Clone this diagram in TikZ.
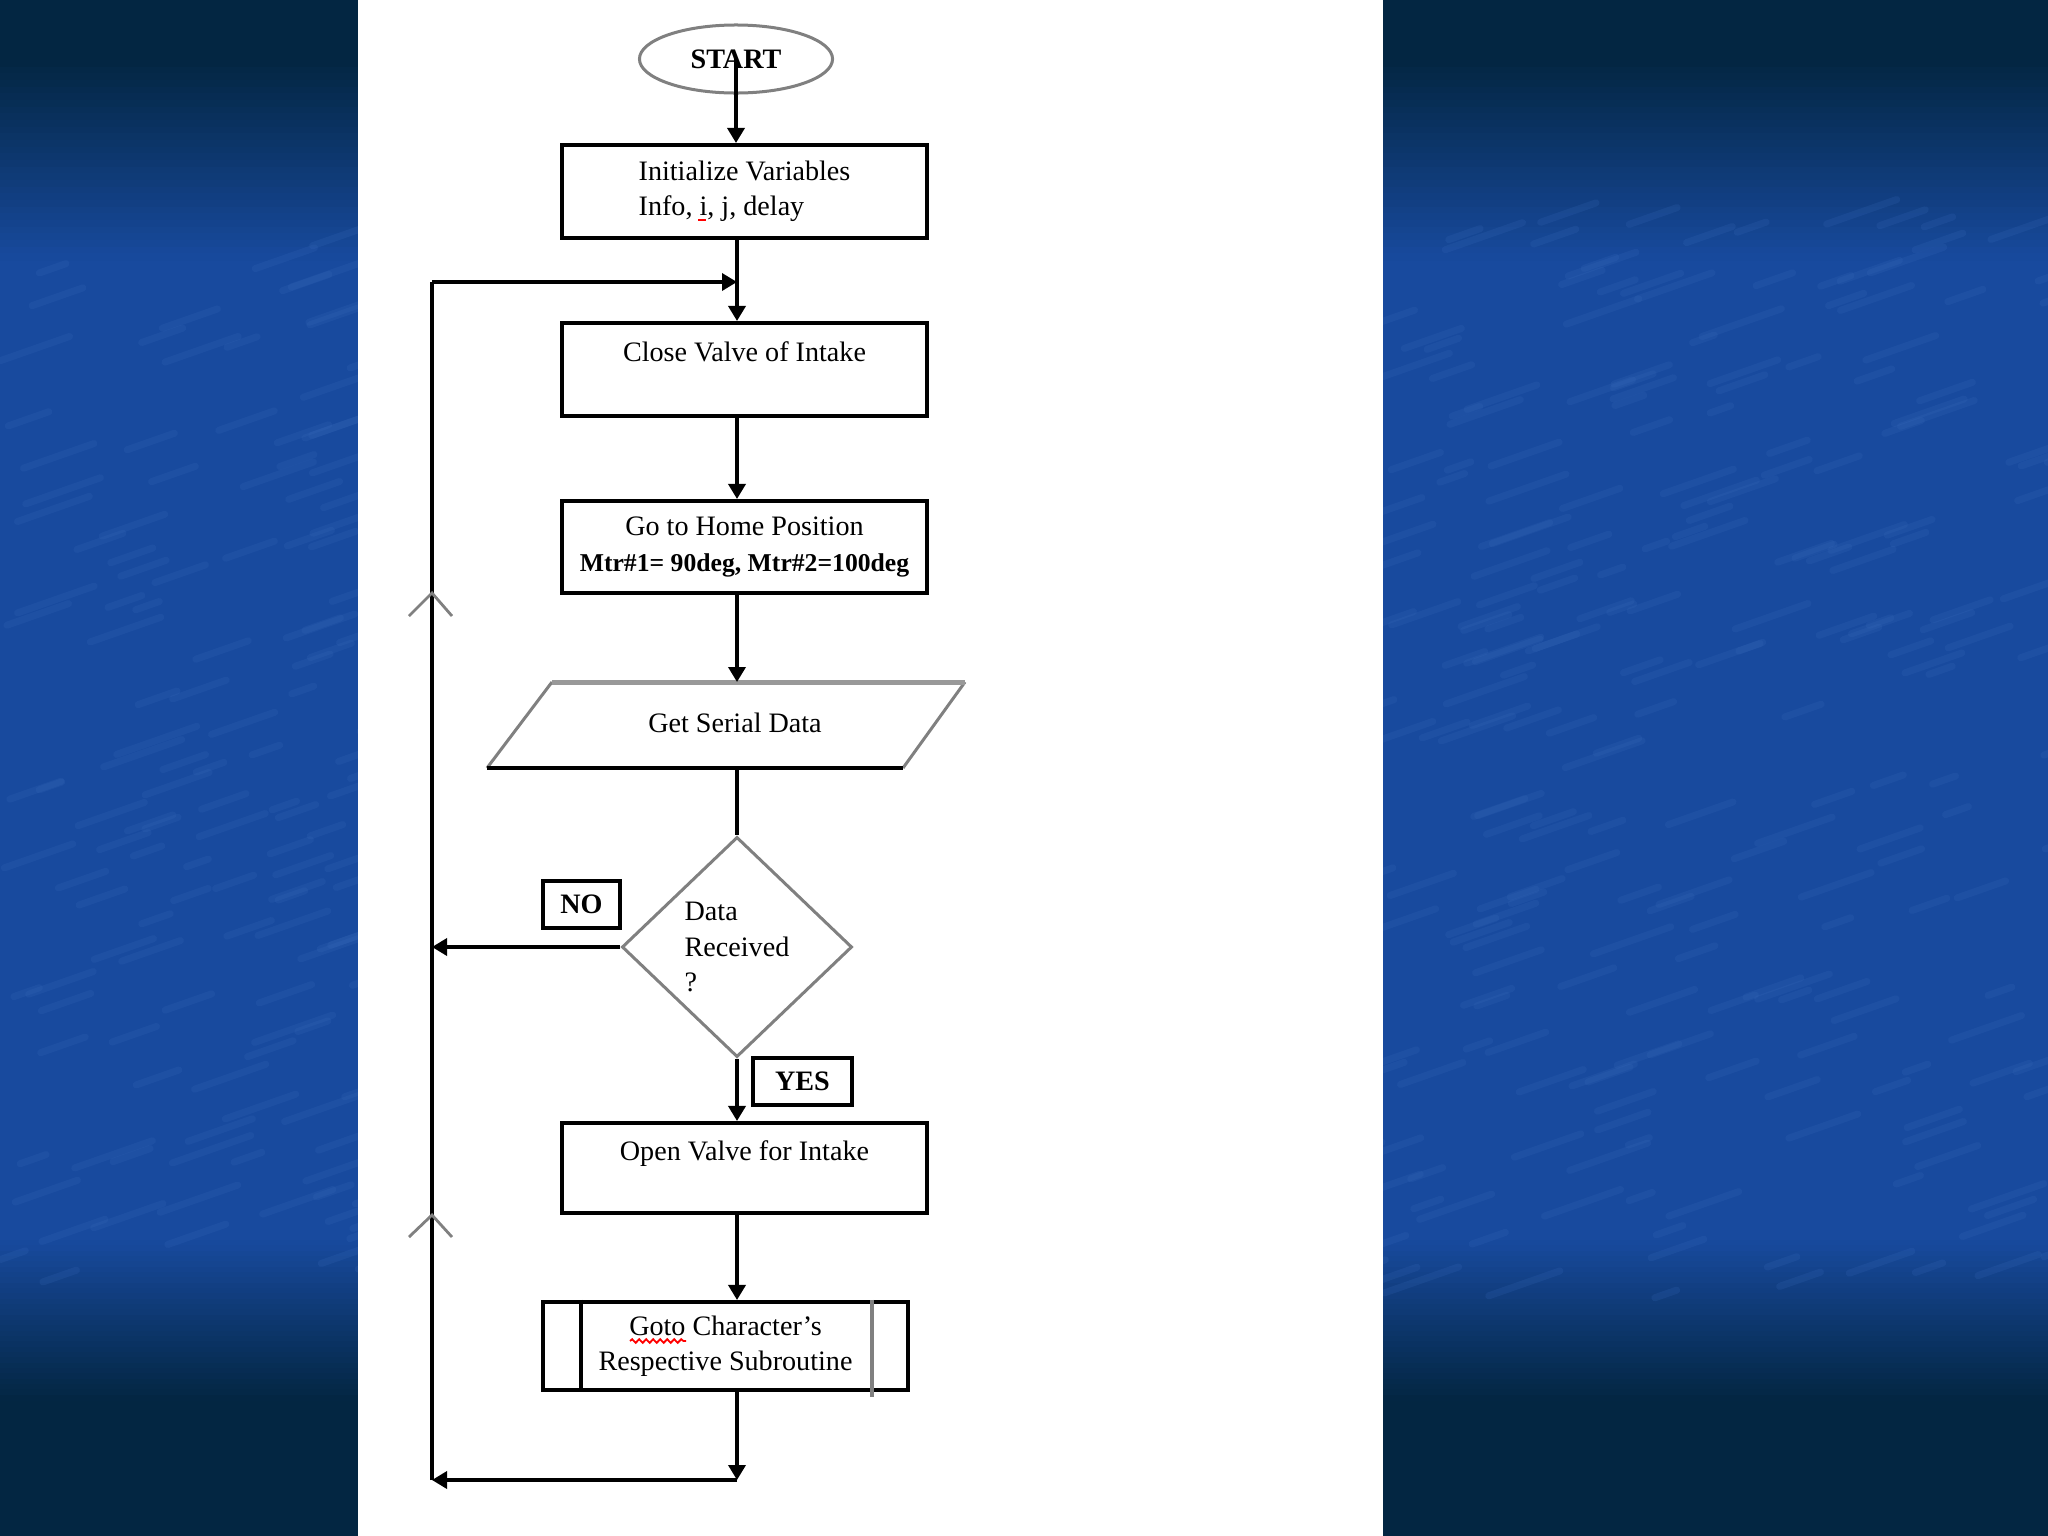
\documentclass[tikz,border=0pt]{standalone}
\usepackage{fontspec}
\setmainfont{Liberation Serif}
\usetikzlibrary{shapes.geometric,arrows.meta,decorations.pathmorphing}
\definecolor{bgdark}{RGB}{3,38,66}
\definecolor{bgblue}{RGB}{24,74,158}
\definecolor{streak}{RGB}{60,110,190}
\begin{document}
\begin{tikzpicture}[x=0.01cm,y=-0.01cm,
  txt/.style={font=\fontsize{8}{10}\selectfont},
  box/.style={draw, line width=0.04cm, minimum width=3.65cm, inner sep=0pt, align=center, txt},
  tag/.style={draw, line width=0.035cm, minimum height=0.47cm, inner sep=0pt, txt, font=\bfseries\fontsize{8}{10}\selectfont},
  arr/.style={-{Triangle[width=0.17cm,length=0.15cm]}, line width=0.035cm},
  plain/.style={line width=0.035cm},
  chev/.style={gray, line width=0.028cm}]
\useasboundingbox (0,0) rectangle (2048,1536);
% background
\fill[bgdark] (0,0) rectangle (2048,1536);
\fill[bgblue] (0,260) rectangle (2048,1240);
\foreach \k in {0,...,29} {
  \pgfmathsetmacro{\ya}{60+\k*200/30}
  \pgfmathsetmacro{\yb}{60+(\k+1)*200/30+1}
  \pgfmathtruncatemacro{\p}{(\k+0.5)*100/30}
  \fill[bgblue!\p!bgdark] (0,\ya) rectangle (2048,\yb);
  \pgfmathsetmacro{\yc}{1240+\k*160/30}
  \pgfmathsetmacro{\yd}{1240+(\k+1)*160/30+1}
  \pgfmathtruncatemacro{\q}{100-(\k+0.5)*100/30}
  \fill[bgblue!\q!bgdark] (0,\yc) rectangle (2048,\yd);
}
% faint texture streaks
\pgfmathsetseed{7}
\foreach \i in {1,...,700} {
  \pgfmathsetmacro{\sx}{rnd*2048}
  \pgfmathsetmacro{\sy}{220+rnd*1080}
  \pgfmathsetmacro{\sl}{20+rnd*60}
  \draw[streak, opacity=0.18, line width=0.07cm, line cap=round] (\sx,\sy) -- ++(\sl,-0.35*\sl);
}
\fill[white] (358,0) rectangle (1383,1536);

% main axis
\coordinate (m) at (737,0);

% nodes
\node[draw=gray, line width=0.03cm, ellipse, minimum width=1.93cm, minimum height=0.68cm, inner sep=0pt, font=\bfseries\fontsize{8}{10}\selectfont] (start) at (736,59) {START};
\node[box, minimum height=0.93cm, align=left] (init) at (744.5,191.5) {Initialize Variables\\Info, i, j, delay};
\node[box, minimum height=0.93cm] (close) at (744.5,369.5) {Close Valve of Intake\\\mbox{}};
\node[box, minimum height=0.92cm] (home) at (744.5,547) {Go to Home Position\\{\bfseries\fontsize{7.3}{10}\selectfont Mtr\#1= 90deg, Mtr\#2=100deg}};
% parallelogram
\coordinate (pbl) at (487,768);
\coordinate (ptl) at (552,682);
\coordinate (ptr) at (965,682);
\coordinate (pbr) at (903,768);
\draw[gray, line width=0.03cm] (pbl) -- (ptl);
\draw[gray, line width=0.03cm] (ptr) -- (pbr);
\draw[gray!80, line width=0.05cm] (ptl) -- (ptr);
\draw[line width=0.04cm] (pbl) -- (pbr);
\node[txt] (getdata) at (735,723) {Get Serial Data};
\coordinate (ptop) at (737,682);
\coordinate (pbot) at (737,768);

\node[diamond, draw=gray, line width=0.03cm, minimum width=2.3cm, minimum height=2.2cm, inner sep=0pt, align=left, txt] (dec) at (737,947) {Data\\Received\\?};
\node[tag, minimum width=0.77cm] (no) at (581.5,904.5) {NO};
\node[tag, minimum width=0.99cm] (yes) at (802.5,1081.5) {YES};
\node[box, minimum height=0.90cm] (open) at (744.5,1168) {Open Valve for Intake\\\mbox{}};
\node[box, minimum height=0.88cm] (sub) at (725.5,1346) {Goto Character's\\Respective Subroutine};
\draw[line width=0.04cm] ([xshift=0.4cm]sub.north west) -- ([xshift=0.4cm]sub.south west);
\draw[gray, line width=0.035cm] ([xshift=-0.38cm]sub.north east) -- ([xshift=-0.38cm,yshift=-0.05cm]sub.south east);
% spell-check marks
\draw[red, line width=0.018cm, decorate, decoration={snake, amplitude=0.018cm, segment length=0.07cm}] (630,1341) -- (686,1341);
\draw[red, line width=0.02cm] (698,220) -- (706,220);

% loop corners
\coordinate (jt) at (737,282);
\coordinate (lt) at (432,282);
\coordinate (lb) at (432,1480);
\coordinate (jb) at (737,1480);

% connectors
\draw[arr] (start.center) -- (start.center |- init.north);
\draw[arr] (init.south -| m) -- (close.north -| m);
\draw[arr] (close.south -| m) -- (home.north -| m);
\draw[arr] (home.south -| m) -- (ptop);
\draw[plain] (pbot) -- (dec.north);
\draw[arr] (dec.west) -- (dec.west -| lt);
\draw[arr] (dec.south) -- (open.north -| m);
\draw[arr] (open.south -| m) -- (sub.north -| m);
\draw[arr] (sub.south -| m) -- (jb);
\draw[arr] (jb) -- (lb);
\draw[line width=0.04cm] (lb) -- (lt);
\draw[arr] (lt) -- (jt);
% chevrons on the return line
\draw[chev] (409,616) -- (432,593) -- (452,616);
\draw[chev] (409,1237) -- (432,1215) -- (452,1237);
\end{tikzpicture}
\end{document}
